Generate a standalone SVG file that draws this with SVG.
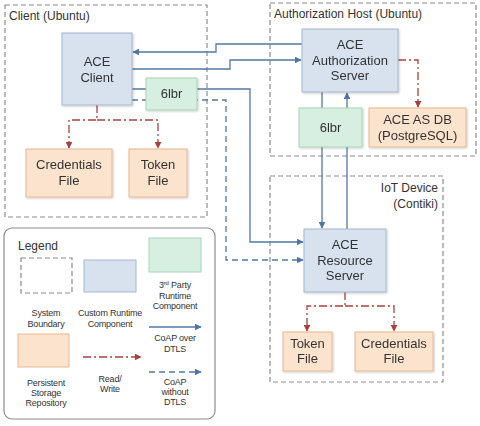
<svg xmlns="http://www.w3.org/2000/svg" width="480" height="426" viewBox="0 0 480 426">
<style>
.bnd{fill:none;stroke:#8c8c8c;stroke-width:1.2;stroke-dasharray:5,3}
.cust{fill:#d7e2ee;stroke:#a3b8cf;stroke-width:1}
.third{fill:#d6efe0;stroke:#a8d4b9;stroke-width:1}
.store{fill:#fbe3cd;stroke:#e6b891;stroke-width:1}
.t{font-family:"Liberation Sans",Arial,sans-serif;font-size:13px;fill:#333;text-anchor:middle}
.tt{font-family:"Liberation Sans",Arial,sans-serif;font-size:12px;fill:#333}
.lg{font-family:"Liberation Sans",Arial,sans-serif;font-size:9px;letter-spacing:-0.2px;fill:#333;text-anchor:middle}
.coap{fill:none;stroke:#5178a5;stroke-width:1.3}
.nodtls{fill:none;stroke:#5178a5;stroke-width:1.3;stroke-dasharray:6,4}
.rw{fill:none;stroke:#a8413d;stroke-width:1.3;stroke-dasharray:8,3,2,3}
</style>
<defs>
<marker id="ab" viewBox="0 0 10 10" refX="9" refY="5" markerWidth="7" markerHeight="7" markerUnits="userSpaceOnUse" orient="auto"><path d="M0,0 L10,5 L0,10 z" fill="#4f76a3"/></marker>
<marker id="ar" viewBox="0 0 10 10" refX="9" refY="5" markerWidth="7" markerHeight="7" markerUnits="userSpaceOnUse" orient="auto"><path d="M0,0 L10,5 L0,10 z" fill="#a8413d"/></marker>
<filter id="sh" x="-10%" y="-10%" width="130%" height="130%"><feDropShadow dx="1" dy="1" stdDeviation="0.8" flood-color="#000" flood-opacity="0.2"/></filter>
</defs>
<rect width="480" height="426" fill="#fff"/>

<g id="client-boundary">
<rect class="bnd" x="5" y="5" width="202" height="212"/>
<text class="tt" x="9" y="20">Client (Ubuntu)</text>
</g>
<g id="auth-boundary">
<rect class="bnd" x="270" y="3" width="206" height="153"/>
<text class="tt" x="274" y="18">Authorization Host (Ubuntu)</text>
</g>
<g id="iot-boundary">
<rect class="bnd" x="270" y="176" width="173" height="206"/>
<text class="tt" x="438" y="192" text-anchor="end">IoT Device</text>
<text class="tt" x="438" y="208" text-anchor="end">(Contiki)</text>
</g>

<g id="connectors">
<polyline class="coap" points="302,44 216,44 216,52 133,52" marker-end="url(#ab)"/>
<polyline class="coap" points="132,69 230,69 230,60 301,60" marker-end="url(#ab)"/>
<polyline class="coap" points="132,89 250,89 250,242 303,242" marker-end="url(#ab)"/>
<polyline class="nodtls" points="132,100 226,100 226,260 303,260" marker-end="url(#ab)"/>
<polyline class="coap" points="322,92 322,228" marker-end="url(#ab)"/>
<polyline class="coap" points="347,229 347,93" marker-end="url(#ab)"/>
<polyline class="rw" points="97,105 97,120 69,120 69,148" marker-end="url(#ar)"/>
<polyline class="rw" points="97,120 158,120 158,148" marker-end="url(#ar)"/>
<polyline class="rw" points="398,60 418,60 418,107" marker-end="url(#ar)"/>
<polyline class="rw" points="345,292 345,306 307,306 307,331" marker-end="url(#ar)"/>
<polyline class="rw" points="345,306 394,306 394,331" marker-end="url(#ar)"/>
</g>

<g id="ace-client" filter="url(#sh)">
<rect class="cust" x="62" y="33" width="70" height="72"/>
<text class="t" x="97" y="66">ACE</text>
<text class="t" x="97" y="82">Client</text>
</g>
<g id="client-6lbr" filter="url(#sh)">
<rect class="third" x="146" y="78" width="51" height="32"/>
<text class="t" x="171.5" y="98">6lbr</text>
</g>
<g id="client-credentials" filter="url(#sh)">
<rect class="store" x="26" y="149" width="86" height="48"/>
<text class="t" x="69" y="169">Credentials</text>
<text class="t" x="69" y="185">File</text>
</g>
<g id="client-token" filter="url(#sh)">
<rect class="store" x="129" y="149" width="58" height="48"/>
<text class="t" x="158" y="169">Token</text>
<text class="t" x="158" y="185">File</text>
</g>

<g id="ace-as" filter="url(#sh)">
<rect class="cust" x="302" y="29" width="96" height="63"/>
<text class="t" x="350" y="49">ACE</text>
<text class="t" x="350" y="65">Authorization</text>
<text class="t" x="350" y="80">Server</text>
</g>
<g id="as-6lbr" filter="url(#sh)">
<rect class="third" x="299" y="108" width="63" height="39"/>
<text class="t" x="330.5" y="132">6lbr</text>
</g>
<g id="as-db" filter="url(#sh)">
<rect class="store" x="369" y="108" width="97" height="39"/>
<text class="t" x="417.5" y="124">ACE AS DB</text>
<text class="t" x="417.5" y="140">(PostgreSQL)</text>
</g>

<g id="ace-rs" filter="url(#sh)">
<rect class="cust" x="304" y="229" width="82" height="63"/>
<text class="t" x="345" y="249">ACE</text>
<text class="t" x="345" y="265">Resource</text>
<text class="t" x="345" y="280">Server</text>
</g>
<g id="rs-token" filter="url(#sh)">
<rect class="store" x="283" y="332" width="49" height="39"/>
<text class="t" x="307.5" y="348">Token</text>
<text class="t" x="307.5" y="363">File</text>
</g>
<g id="rs-credentials" filter="url(#sh)">
<rect class="store" x="355" y="332" width="78" height="39"/>
<text class="t" x="394" y="348">Credentials</text>
<text class="t" x="394" y="363">File</text>
</g>

<g id="legend">
<rect x="4" y="228" width="211" height="191" rx="8" fill="#fff" stroke="#8c8c8c" stroke-width="1.2"/>
<text class="tt" x="18" y="250">Legend</text>
<rect class="bnd" x="21" y="258" width="51" height="35" stroke-width="1"/>
<rect class="cust" x="84" y="260" width="52" height="32"/>
<rect class="third" x="149" y="238" width="52" height="34"/>
<text class="lg" x="175" y="288">3<tspan font-size="6" dy="-3">rd</tspan><tspan dy="3"> Party</tspan></text>
<text class="lg" x="175" y="299">Runtime</text>
<text class="lg" x="175" y="309">Component</text>
<text class="lg" x="46" y="316">System</text>
<text class="lg" x="46" y="327">Boundary</text>
<text class="lg" x="110" y="316">Custom Runtime</text>
<text class="lg" x="110" y="327">Component</text>
<line class="coap" x1="149" y1="327" x2="201" y2="327" marker-end="url(#ab)"/>
<text class="lg" x="175" y="341">CoAP over</text>
<text class="lg" x="175" y="352">DTLS</text>
<rect class="store" x="18" y="334" width="51" height="33"/>
<line class="rw" x1="83" y1="357" x2="141" y2="357" marker-end="url(#ar)"/>
<text class="lg" x="110" y="382">Read/</text>
<text class="lg" x="110" y="392">Write</text>
<text class="lg" x="46" y="386">Persistent</text>
<text class="lg" x="46" y="396">Storage</text>
<text class="lg" x="46" y="406">Repository</text>
<line class="nodtls" x1="149" y1="372" x2="201" y2="372" marker-end="url(#ab)"/>
<text class="lg" x="175" y="385">CoAP</text>
<text class="lg" x="175" y="395">without</text>
<text class="lg" x="175" y="405">DTLS</text>
</g>
</svg>
